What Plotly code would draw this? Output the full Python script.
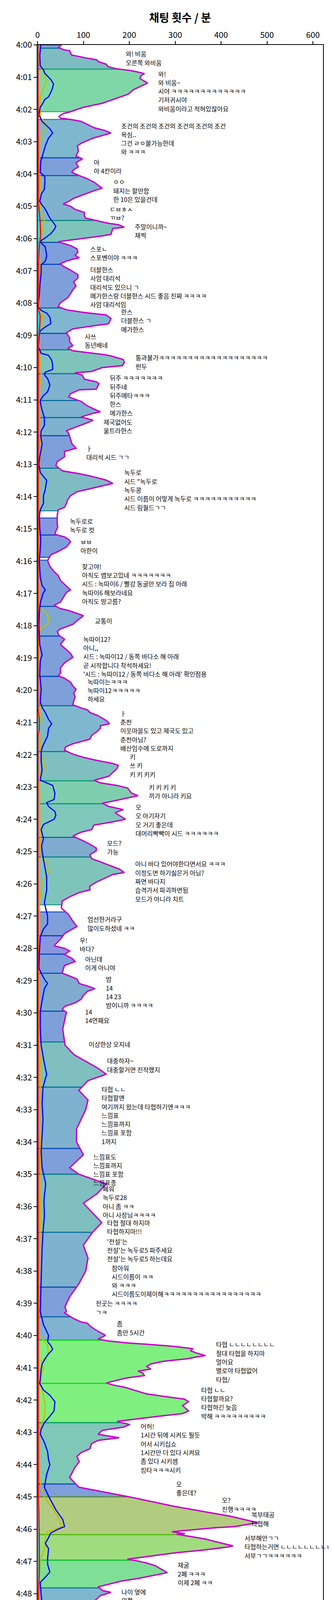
import numpy as np
import plotly.graph_objects as go

# ---------------- data (minutes after 4:00) ----------------
total_t = [0, 0.08, 0.15, 0.18, 0.31, 0.375, 0.41, 0.46, 0.52, 0.6, 0.67, 0.74, 0.79, 0.83, 0.89, 0.96, 1.04, 1.18, 1.28, 1.39, 1.53, 1.69, 1.81, 1.93, 2.01, 2.07, 2.13, 2.21, 2.27, 2.31, 2.37, 2.45, 2.57, 2.65, 2.73, 2.81, 2.89, 3.05, 3.13, 3.29, 3.45, 3.53, 3.65, 3.78, 3.88, 3.95, 4.05, 4.15, 4.27, 4.38, 4.44, 4.52, 4.62, 4.7, 4.76, 4.85, 4.93,
           5.0, 5.1, 5.19, 5.29, 5.37, 5.43, 5.53, 5.57, 5.65, 5.69, 5.87, 5.92, 5.98, 6.04, 6.1, 6.16, 6.22, 6.32, 6.42, 6.52, 6.6, 6.64, 6.7, 6.78, 6.86, 6.98, 7.12, 7.22, 7.35, 7.47, 7.59, 7.71, 7.83, 7.99, 8.11, 8.21, 8.29, 8.37, 8.48, 8.64, 8.72, 8.8, 8.92, 9.08, 9.2, 9.32, 9.4, 9.48, 9.6, 9.64, 9.75, 9.85, 9.94,
           10.0, 10.12, 10.16, 10.24, 10.36, 10.44, 10.5, 10.67, 10.69, 10.81, 10.91, 11.05, 11.19, 11.33, 11.37, 11.43, 11.53, 11.63, 11.71, 11.83, 11.96, 12.04, 12.22, 12.36, 12.5, 12.6, 12.76, 12.92, 13.04, 13.2, 13.29, 13.37, 13.49, 13.59, 13.71, 13.85, 13.97, 14.09, 14.21, 14.33, 14.41, 14.58, 14.83, 14.95,
           15.07, 15.17, 15.25, 15.33, 15.4, 15.56, 15.7, 15.8, 15.98, 16.16, 16.32, 16.44, 16.6, 16.77, 16.89, 16.97, 17.13, 17.27, 17.37, 17.47, 17.53, 17.69, 17.85, 17.96, 18.1, 18.18, 18.3, 18.42, 18.58, 18.74, 18.86, 18.98, 19.15, 19.31, 19.48, 19.55, 19.63, 19.75, 19.87, 19.97,
           20.09, 20.21, 20.33, 20.45, 20.55, 20.61, 20.69, 20.79, 20.94, 21.04, 21.1, 21.18, 21.3, 21.4, 21.52, 21.66, 21.76, 21.86, 21.98, 22.08, 22.17, 22.27, 22.33, 22.43, 22.55, 22.67, 22.79, 22.87, 22.95, 23.03, 23.19, 23.27, 23.35, 23.44, 23.5, 23.6, 23.7, 23.8, 24.0, 24.08, 24.18, 24.32, 24.4, 24.52, 24.67, 24.77, 24.89, 24.98,
           25.1, 25.22, 25.34, 25.42, 25.54, 25.65, 25.71, 25.83, 25.95, 26.07, 26.19, 26.27, 26.39, 26.53, 26.75, 26.96, 27.16, 27.32, 27.44, 27.54, 27.72, 27.92, 28.0, 28.08, 28.19, 28.31, 28.41, 28.53, 28.65, 28.77, 28.87, 28.95, 29.09, 29.19, 29.25, 29.33, 29.46, 29.58, 29.69, 29.8, 29.9, 29.98,
           30.5, 31.0, 31.3, 31.7, 31.9, 32.1, 32.4, 32.7, 33.0, 33.3, 33.6, 34.0, 34.4, 34.8, 35.0, 35.3, 35.6, 35.9, 36.2, 36.5, 36.8, 37.2, 37.6, 38.0, 38.4, 38.8, 39.1,
           39.26, 39.3, 39.46, 39.58, 39.62, 39.7, 39.79, 39.91, 39.99, 40.05, 40.11, 40.17, 40.23, 40.27, 40.33, 40.39, 40.41, 40.47, 40.55, 40.62, 40.66, 40.72, 40.8, 40.88, 40.96, 41.04, 41.1, 41.16, 41.24, 41.32, 41.4, 41.47, 41.53, 41.61, 41.69, 41.81, 41.91, 41.97, 42.05, 42.17, 42.34, 42.42, 42.5, 42.58, 42.66, 42.76, 42.84, 42.94, 43.06, 43.17, 43.25, 43.35, 43.51, 43.63, 43.75, 43.91, 44.08,
           44.4, 44.7, 45.0, 45.3, 45.6, 45.8, 45.92, 45.96, 46.08, 46.14, 46.16, 46.24, 46.32, 46.36, 46.44, 46.52, 46.56, 46.65, 46.73, 46.83, 46.93, 46.99, 47.05, 47.13, 47.25, 47.35, 47.45, 47.53, 47.61, 47.71, 47.79, 47.9, 47.96, 48.06, 48.18, 48.28, 48.4, 48.5, 48.58, 48.66, 48.78, 48.88, 48.98, 49.13, 49.23, 49.39, 49.51,
           50.0, 50.5, 51.0, 51.5, 52.0, 52.5, 53.0, 53.5, 54.0, 54.5, 55.0, 55.5, 56.0, 56.5, 57.0, 57.5, 58.0, 58.3,
           58.63, 58.7, 58.79, 59.03, 59.13, 59.19, 59.27, 59.4, 59.52, 59.63, 59.69, 59.73, 59.84, 59.96, 60]
total_v = [52, 46, 57, 70, 74, 95, 108, 129, 133, 150, 153, 172, 201, 215, 233, 225, 223, 240, 225, 209, 197, 166, 141, 101, 84, 72, 56, 47, 50, 72, 95, 107, 124, 146, 160, 141, 121, 95, 87, 89, 84, 98, 84, 89, 78, 75, 91, 109, 125, 135, 141, 123, 105, 90, 78, 68, 56,
           72, 82, 102, 102, 105, 123, 155, 176, 189, 164, 160, 141, 109, 72, 45, 59, 72, 86, 88, 82, 91, 77, 63, 50, 56, 72, 88, 88, 79, 84, 77, 72, 66, 50, 45, 63, 100, 150, 160, 155, 118, 77, 63, 70, 70, 77, 66, 77, 146, 160, 187, 189, 185,
           141, 118, 82, 98, 102, 128, 134, 128, 91, 72, 68, 95, 109, 130, 137, 118, 95, 121, 109, 86, 63, 68, 72, 75, 84, 59, 59, 43, 40, 54, 91, 118, 150, 164, 128, 86, 72, 66, 63, 59, 45, 43, 43, 44,
           40, 38, 59, 68, 72, 63, 45, 29, 22, 27, 36, 45, 50, 63, 72, 63, 56, 50, 36, 50, 68, 100, 86, 77, 50, 43, 47, 59, 50, 63, 72, 77, 59, 50, 50, 45, 59, 72, 77, 84,
           79, 82, 79, 77, 95, 109, 114, 132, 150, 157, 137, 137, 128, 118, 114, 77, 61, 59, 77, 100, 128, 164, 176, 173, 164, 155, 123, 137, 173, 196, 205, 219, 192, 164, 141, 155, 187, 169, 192, 164, 123, 118, 95, 77, 100, 114, 128, 128,
           114, 118, 141, 155, 178, 189, 164, 146, 128, 114, 114, 91, 72, 54, 52, 68, 77, 86, 72, 59, 50, 36, 59, 70, 59, 75, 82, 59, 56, 54, 72, 86, 91, 114, 125, 109, 100, 95, 82, 59, 54, 63,
           55, 60, 80, 130, 150, 110, 90, 110, 105, 95, 85, 85, 100, 70, 90, 150, 130, 100, 120, 140, 120, 100, 110, 105, 90, 70, 60,
           63, 59, 77, 95, 109, 114, 123, 137, 148, 141, 132, 155, 196, 238, 293, 329, 339, 333, 348, 366, 348, 326, 274, 247, 238, 247, 219, 229, 233, 192, 169, 150, 164, 192, 210, 238, 288, 320, 329, 316, 329, 316, 265, 219, 173, 201, 187, 141, 132, 178, 132, 118, 114, 95, 86, 91, 82,
           70, 90, 200, 300, 420, 480, 430, 385, 293, 321, 303, 339, 370, 380, 403, 426, 412, 361, 302, 247, 196, 219, 238, 256, 270, 283, 247, 219, 183, 155, 132, 141, 160, 137, 128, 118, 77, 68, 56, 68, 86, 128, 141, 146, 118, 77, 72,
           60, 50, 45, 40, 60, 80, 60, 45, 40, 60, 100, 120, 100, 90, 120, 110, 70, 40,
           55, 50, 55, 31, 16, 27, 41, 72, 101, 129, 118, 112, 101, 84, 81]

blue_t = [0, 0.32, 0.65, 0.77, 0.88, 1.09, 1.21, 1.37, 1.5, 1.61, 1.69, 1.85, 1.93, 2.17, 2.37, 2.49, 2.6, 2.73, 2.89, 3.13, 3.37, 3.62, 3.95, 4.05, 4.1, 4.27, 4.48, 4.6, 4.84, 4.93, 5.05, 5.17, 5.29, 5.45, 5.53, 5.63, 5.73, 5.85, 5.98, 6.06, 6.14, 6.26, 6.54, 6.7, 6.82, 7.06, 7.35, 7.75, 8.11, 8.23, 8.31, 8.44, 8.64, 8.74, 8.86, 8.96, 9.36, 9.56, 9.62, 9.77, 9.93, 10.06, 10.14, 10.22, 10.34, 10.54, 10.75, 10.87, 10.99, 11.07, 11.33, 11.55, 11.79, 11.96, 12.12, 12.36, 12.56, 12.76, 13.0, 13.25, 13.41, 13.49, 13.77, 13.97, 14.21, 14.41, 14.6, 15.0, 15.3, 15.6, 16.0, 16.5, 16.75, 16.89, 17.0, 17.3, 17.6, 18.0, 18.6, 18.9, 19.1, 19.5, 19.97, 20.37, 20.53, 20.69, 20.9, 21.04, 21.18, 21.42, 21.62, 21.78, 21.9, 22.19, 22.47, 22.79, 22.95, 23.19, 23.39, 23.48, 23.6, 23.76, 23.88, 24.0, 24.16, 24.32, 24.6, 24.81, 25.0, 25.38, 25.79, 26.19, 26.59, 27.0, 27.24, 27.4, 27.64, 28.13, 28.61, 28.77, 29.0, 29.08, 29.25, 29.62, 29.98,
          30.5, 31.0, 31.5, 31.9, 32.3, 32.8, 33.3, 33.8, 34.3, 34.8, 35.3, 35.8, 36.3, 36.8, 37.3, 37.8, 38.3, 38.8,
          39.26, 39.66, 39.99, 40.19, 40.31, 40.43, 40.6, 40.88, 41.04, 41.36, 41.49, 41.69, 41.85, 42.05, 42.34, 42.5, 42.7, 42.9, 43.06, 43.31, 43.6, 43.84, 44.0,
          44.3, 44.7, 45.0, 45.4, 45.7, 45.92, 46.0, 46.12, 46.32, 46.44, 46.6, 46.93, 47.09, 47.33, 47.49, 47.65, 48.02, 48.34, 48.58, 48.74, 49.06, 49.27,
          49.8, 50.3, 50.8, 51.3, 51.8, 52.3, 52.8, 53.3, 53.8, 54.3, 54.8, 55.3, 55.8, 56.3, 56.8, 57.3, 57.8, 58.3,
          58.63, 59.03, 59.13, 59.33, 59.4, 59.6, 59.7, 59.84, 59.96, 60]
blue_v = [7, 5, 6, 13, 16, 30, 35, 32, 28, 24, 16, 10, 6, 3, 10, 19, 27, 33, 24, 17, 12, 7, 6, 14, 16, 16, 15, 9, 5, 8, 15, 20, 24, 31, 36, 40, 36, 29, 17, 8, 8, 17, 20, 17, 8, 8, 6, 4, 1, 8, 20, 27, 29, 17, 6, 4, 2, 8, 24, 31, 33, 33, 17, 15, 22, 27, 22, 13, 7, 6, 10, 15, 15, 8, 7, 10, 8, 5, 3, 6, 15, 20, 17, 13, 13, 6, 4, 5, 7, 6, 4, 6, 10, 17, 12, 6, 4, 3, 5, 10, 6, 5, 8, 6, 10, 17, 24, 31, 24, 22, 15, 10, 8, 8, 10, 6, 33, 38, 36, 20, 24, 38, 40, 36, 13, 8, 13, 9, 10, 15, 20, 20, 15, 22, 22, 13, 6, 4, 3, 8, 17, 22, 15, 10, 6,
          6, 8, 14, 20, 12, 10, 12, 10, 8, 10, 18, 14, 15, 12, 10, 9, 8, 7,
          6, 13, 24, 22, 29, 33, 22, 10, 8, 6, 5, 13, 27, 38, 36, 27, 15, 8, 6, 15, 22, 24, 27,
          20, 15, 25, 40, 55, 59, 45, 29, 22, 17, 24, 22, 22, 27, 17, 6, 8, 10, 6, 7, 8, 4,
          6, 8, 6, 5, 6, 10, 7, 5, 4, 6, 10, 14, 12, 10, 14, 12, 9, 6,
          7, 5, 3, 5, 16, 20, 24, 21, 10, 9]

yellow_t = [0, 0.52, 0.73, 1.0, 1.13, 1.29, 1.53, 1.73, 2.1, 2.26, 2.46, 2.58, 2.74, 2.98, 3.27, 3.95, 4.23, 4.44, 4.76, 4.93, 5.17, 5.45, 5.57, 5.98, 6.14, 6.54, 6.94, 7.35, 7.55, 7.75, 8.15, 8.35, 8.64, 8.8, 8.96, 9.36, 9.77, 9.93, 10.3, 10.6, 11.0, 11.5, 12.0, 12.6, 12.8, 13.2, 14.0, 15.0, 16.5, 17.3, 17.47, 17.57, 17.73, 17.94, 18.1, 18.3, 19.0, 19.6, 19.97, 20.45, 20.69, 21.2, 22.0, 22.23, 22.43, 22.6, 22.9, 23.8, 24.3, 24.8, 25.18, 25.34, 25.67, 25.87, 26.19, 26.59, 27.2, 27.6, 28.2, 29.0, 30.0,
            31.0, 31.9, 32.5, 33.5, 35.3, 36.5, 38.0, 39.0,
            39.26, 39.99, 40.15, 40.31, 40.6, 40.8, 41.0, 41.28, 41.49, 41.85, 42.17, 42.5, 42.82, 43.1, 44.0,
            44.5, 45.0, 45.5, 45.92, 46.0, 46.08, 46.24, 46.52, 46.81, 47.01, 47.33, 47.61, 48.5, 50, 52, 55, 57, 58.63, 59.5, 60]
yellow_v = [4, 6, 10, 17, 20, 15, 8, 5, 6, 7, 20, 17, 10, 5, 4, 3, 8, 6, 3, 6, 8, 15, 13, 8, 4, 4, 6, 8, 5, 3, 4, 10, 13, 8, 4, 4, 5, 8, 8, 5, 4, 5, 4, 10, 5, 3, 4, 3, 5, 3, 6, 17, 24, 22, 6, 3, 4, 6, 7, 7, 8, 4, 8, 13, 17, 6, 4, 5, 5, 7, 8, 20, 24, 13, 8, 4, 5, 5, 3, 3, 3,
            4, 8, 5, 5, 8, 6, 4, 3,
            3, 3, 13, 22, 24, 8, 13, 8, 6, 13, 17, 15, 8, 4, 4,
            5, 15, 40, 54, 40, 20, 17, 17, 10, 6, 5, 4, 3, 3, 4, 5, 5, 4, 6, 5]

red_t = [0, 4.9, 5.5, 5.9, 6.2, 6.8, 8.2, 8.4, 8.7, 9.2, 20.5, 20.7, 20.9, 21.2, 21.4, 45.0, 45.5, 46.5, 47.3, 48.0, 59.15, 59.43, 59.6, 59.73, 59.85, 60]
red_v = [1, 2, 6, 7, 4, 2, 2, 6, 5, 2, 1, 2, 4, 4, 1, 2, 3, 4, 4, 2, 2, 5, 9, 7, 6, 8]

cyan_t = [0, 0.3, 0.6, 1, 11.1, 11.3, 11.5, 19.4, 19.7, 20.0, 20.3, 20.5, 60]
cyan_v = [2, 6, 3, 1, 2, 6, 2, 2, 7, 9, 7, 2, 1]

# segments: start, end, colour (full-strength line colour; fill = 50% tint)
seg_start = [0, 0.1, 0.75, 2.31, 3.5, 4.05, 5.44, 6.12, 6.8, 8.15, 8.94, 9.45, 10.19, 11.02, 11.55, 12.11, 13.12, 14.66, 15.19, 15.97, 17.4, 18.32, 19.57, 20.48, 21.9, 22.81, 23.52, 24.56, 25.17, 26.87, 27.61, 28.18, 28.77,
             29.95, 30.9, 32.3, 34.2, 35.0, 36.8, 38.5, 39.42, 40.14, 41.48, 42.7, 44.6, 45.0, 46.17, 46.96, 47.82, 48.6, 49.6, 51.0, 53.8, 54.3, 55.8, 56.6, 58.3, 59.15, 59.68]
seg_end = [0.1, 0.75, 2.07, 3.5, 4.05, 5.44, 6.12, 6.8, 8.15, 8.94, 9.45, 10.19, 11.02, 11.55, 12.11, 13.12, 14.44, 15.19, 15.88, 17.4, 18.32, 19.57, 20.48, 21.9, 22.81, 23.52, 24.56, 25.17, 26.65, 27.61, 28.18, 28.77, 29.95,
           30.9, 32.3, 34.2, 35.0, 36.8, 38.5, 39.42, 40.14, 41.48, 42.7, 44.6, 45.0, 46.17, 46.96, 47.82, 48.6, 49.6, 51.0, 53.6, 54.3, 55.8, 56.6, 58.3, 59.15, 59.68, 60]
seg_color = ["#0040b8", "#007888", "#00b050", "#006fa0", "#0040b8", "#0066a0", "#008a78", "#0040b8", "#0040b8", "#006fa0", "#0040b8", "#008a78", "#0066a0", "#0066a0", "#0066a0", "#0040b8", "#007888", "#1030c0", "#0040b8", "#0040b8", "#0050a8", "#0040b8", "#0040b8", "#0070a0", "#007f80", "#00a060", "#009078", "#0058a0", "#008a78", "#0040b8", "#1030c0", "#0040b8", "#0058a0",
             "#0040b8", "#007f80", "#0066a0", "#0040b8", "#007f80", "#0066a0", "#0040b8", "#0068a0", "#00e000", "#00e000", "#009070", "#0040b8", "#669900", "#40b800", "#00c030", "#0070a0", "#0070a0", "#0066a0", "#0040b8", "#0040b8", "#0066a0", "#0066a0", "#007f80", "#1030c0", "#0058a0", "#0058a0"]

# annotation blocks: first-line time, left x, lines
note_t = [0.27, 0.89, 2.5, 3.63, 4.24, 5.08, 5.63, 6.32, 6.96, 8.27, 9.03, 9.69, 10.32, 11.68, 12.5, 13.25, 14.76, 15.4, 16.16, 17.85, 18.41, 19.73, 20.71, 22.06, 23.0, 23.62, 24.73, 25.38, 27.1, 27.75, 28.33, 28.95, 29.96,
          30.97, 31.48, 32.36, 34.45, 35.45, 36.5, 37.08, 37.9, 39.0, 39.63, 40.27, 41.68, 42.81, 44.6, 45.1, 45.55, 46.27, 47.11, 47.94, 48.8,
          50.0, 52.2, 52.6, 53.6, 54.1, 54.9, 56.6, 58.3, 59.27, 59.86]
note_x = [191, 261, 180, 121, 163, 156, 210, 113, 113, 180, 101, 212, 156, 142, 105, 187, 69, 92, 95, 123, 98, 107, 179, 199, 241, 212, 150, 211, 107, 90, 102, 147, 102,
          110, 150, 138, 120, 140, 150, 150, 160, 125, 171, 387, 355, 223, 300, 400, 465, 449, 304, 181, 170,
          110, 95, 95, 100, 90, 130, 150, 80, 152, 142]
note_lines = [
    ["와! 비움", "오른쪽 와비움"],
    ["와!", "와 비움~", "시야 ㅋㅋㅋㅋㅋㅋㅋㅋㅋㅋㅋㅋㅋ", "기저귀시야", "와비움이라고 적혀있잖아요"],
    ["조건의 조건의 조건의 조건의 조건의 조건", "욕심..", "그건 ㄹㅇ불가능한데", "와 ㅋㅋㅋ"],
    ["아", "아 4칸이라"],
    ["ㅇㅇ", "돼지는 할만함", "한 10은 있을건데"],
    ["ㄷㅂㅎㅅ", "ㄲㅂ?"],
    ["주말이니까~", "채찍"],
    ["스포ㄴ", "스포벤이야 ㅋㅋㅋ"],
    ["더블한스", "사암 대리석", "대리석도 있으니 ㄱ", "메가한스랑 더블한스 시드 좋음 진짜 ㅋㅋㅋㅋ", "사암 대리석임"],
    ["한스", "더블한스 ㄱ", "메가한스"],
    ["사쓰", "동년배네"],
    ["통과불가ㅋㅋㅋㅋㅋㅋㅋㅋㅋㅋㅋㅋㅋㅋㅋㅋㅋㅋㅋ", "펀두"],
    ["뒤주 ㅋㅋㅋㅋㅋㅋㅋ", "뒤주네", "뒤주메타ㅋㅋㅋ", "한스", "메가한스"],
    ["제국없어도", "울트라한스"],
    ["ㅏ", "대리석 시드 ㄱㄱ"],
    ["녹두로", "시드 \"녹두로", "녹두콩", "시드 이름이 어떻게 녹두로 ㅋㅋㅋㅋㅋㅋㅋㅋㅋㅋㅋ", "시드 림월드ㄱㄱ"],
    ["녹두로로", "녹두로 컷"],
    ["ㅂㅂ", "아한이"],
    ["찾고야!", "아직도 맵보고있네 ㅋㅋㅋㅋㅋㅋㅋ", "시드 : 녹따이6 / 빨강 동굴만 보라 집 아래", "녹따이6 해보라네요", "아직도 땅고름?"],
    ["교통이"],
    ["녹따이12?", "아니,,", "시드 : 녹따이12 / 동쪽 바다소 해 아래", "곧 시작합니다 착석하세요!", "'시드 : 녹따이12 / 동쪽 바다소 해 아래' 확인점용"],
    ["녹따이는ㅋㅋㅋ", "녹따이12ㅋㅋㅋㅋㅋ", "하세요"],
    ["ㅏ", "춘천", "이웃마을도 있고 제국도 있고", "춘천아님?", "배산임수에 도로까지"],
    ["키", "쓰 키", "키 키 키키"],
    ["키 키 키 키", "끼가 아니라 키요"],
    ["오", "오 아기자기", "오 거기 좋은데", "대머리빡빡이 시드 ㅋㅋㅋㅋㅋㅋ"],
    ["모드?", "가능"],
    ["아니 바다 있어야한다면서요 ㅋㅋㅋ", "이정도면 하기싫은거 아님?", "짜면 바다지", "습격가서 파괴하면됨", "모드가 아니라 치트"],
    ["엄선한거라구", "많이도하셨네 ㅋㅋ"],
    ["우!", "바다?"],
    ["아닌데", "이게 아니야"],
    ["밤", "14", "14 23", "밤이니까 ㅋㅋㅋㅋ"],
    ["14", "14연패요"],
    ["이상한상 오지네"],
    ["대충하자~", "대충할거면 진작했지"],
    ["타협 ㄴㄴ", "타협할맨", "여기까지 왔는데 타협하기엔ㅋㅋㅋ", "느낌표", "느낌표까지", "느낌표 포함", "1까지"],
    ["느낌표도", "느낌표까지", "느낌표 포함", "느낌표종"],
    ["폐워", "녹두로28", "아니 좀 ㅋㅋ", "아니 사장님ㅋㅋㅋㅋ"],
    ["타협 절대 하지마", "타협하지마!!!"],
    ["'전설'는", "전설'는 녹두로5 파주세요", "전설'는 녹두로5 하는데요"],
    ["참아워", "시드이름이 ㅋㅋ", "와 ㅋㅋㅋ", "시드이름도이제이해ㅋㅋㅋㅋㅋㅋㅋㅋㅋㅋㅋㅋㅋㅋㅋㅋㅋ"],
    ["전곳는 ㅋㅋㅋㅋ", "ㄱㅋ"],
    ["좀", "좀만 5시간"],
    ["타협 ㄴㄴㄴㄴㄴㄴㄴㄴ", "절대 타협을 하지마", "멀어요", "별로야 타협없어", "타협/"],
    ["타협 ㄴㄴ", "타협할까요?", "타협하긴 늦음", "박해 ㅋㅋㅋㅋㅋㅋㅋㅋㅋ"],
    ["어허!", "1시간 뒤에 시켜도 될듯", "어서 시키십쇼", "1시간만 더 있다 시켜요", "좀 있다 시키셈", "킹타ㅋㅋㅋ시키"],
    ["오", "좋은데?"],
    ["오?", "진행ㅋㅋㅋㅋ"],
    ["북부태공", "타협해"],
    ["서부해안ㄱㄱ", "타협하는거면 ㄴㄴㄴㄴㄴㄴㄴㄴㄴㄴ", "서부ㄱㄱㅋㅋㅋㅋㅋㅋ"],
    ["채굴", "2폐 ㅋㅋㅋ", "이제 2폐 ㅋㅋ"],
    ["나이 옆에", "왼쪽", "나이 옆에거"],
    ["일벌레요", "말", "찾아라 일벌레"],
    ["이상한상입니다", "0", "농장계도 0", "0이요", "0출"],
    ["레피 ㄷㄷ"],
    ["한 농땐 걸려라", "립맨 dlc되나라 비행", "이제 시작...", "ㄴㄷㅋ : 방송은 이제부터 시작이다"],
    ["0이 너무많아"],
    ["헉", "ㅇㅂㅇ"],
    ["인생 개미핵", "개미핵", "솔직히 오래하긴 했다", "그냥 만졸을 정조하는게...", "모드 있음ㅋ ㅋㅋㅋ", "그냥 13일에 발매한다 치죠"],
    ["나제", "나제 컷!", "나제우하자", "소방 ㅋㅋㅋㅋ", "소방결격 ㄷㄷ", "와"],
    ["네코에", "네코는 죽었어", "네코 연전연승", "ㅈ네코@@@@@"],
    ["철권하시나요?", "사싸철 ㄷㄷ"],
    ["사교 결격"],
]

minute_ticks = list(range(0, 61))
minute_labels = [f"{4 + m // 60}:{m % 60:02d}" for m in minute_ticks]
x_ticks = [0, 100, 200, 300, 400, 500, 600]

FONT = "Noto Sans CJK KR"
LINE_STEP = 0.27  # minutes per text line


def tint(hexc, a=0.5):
    h = hexc.lstrip("#")
    r, g, b = int(h[0:2], 16), int(h[2:4], 16), int(h[4:6], 16)
    return f"rgba({r},{g},{b},{a})"


fig = go.Figure()
tt = np.array(total_t, dtype=float)
vv = np.array(total_v, dtype=float)

for a, b, c in zip(seg_start, seg_end, seg_color):
    mask = (tt > a) & (tt < b)
    ys = [a, a] + list(tt[mask]) + [b, b]
    xs = [0, float(np.interp(a, tt, vv))] + list(vv[mask]) + [float(np.interp(b, tt, vv)), 0]
    fig.add_trace(go.Scatter(x=xs, y=ys, mode="lines", fill="toself",
                             fillcolor=tint(c), line=dict(color=tint(c, 0.85), width=2.5),
                             hoverinfo="skip", showlegend=False))

for t_, v_, col, w in [(cyan_t, cyan_v, "#00c8d0", 2), (yellow_t, yellow_v, "#c0c000", 3),
                       (blue_t, blue_v, "#0000ff", 3), (red_t, red_v, "#ff0000", 3),
                       (total_t, total_v, "#c800c8", 3.5)]:
    fig.add_trace(go.Scatter(x=v_, y=t_, mode="lines", line=dict(color=col, width=w),
                             hoverinfo="skip", showlegend=False))

annotations = []
for t0, x0, lines in zip(note_t, note_x, note_lines):
    for i, s in enumerate(lines):
        annotations.append(dict(x=x0, y=t0 + i * LINE_STEP, xref="x", yref="y", text=s,
                                showarrow=False, xanchor="left", yanchor="middle",
                                font=dict(family=FONT, size=16, color="black")))

fig.update_layout(
    width=850, height=5100,
    margin=dict(l=88, r=31, t=107, b=37),
    paper_bgcolor="white", plot_bgcolor="white",
    title=dict(text="<b>채팅 횟수 / 분</b>", x=453 / 850, xanchor="center",
               y=1 - 38 / 5100, yanchor="middle", xref="container", yref="container",
               font=dict(family=FONT, size=28, color="black")),
    annotations=annotations,
    font=dict(family=FONT, color="black"),
)
fig.update_xaxes(range=[0, 622], side="top", tickvals=x_ticks, ticks="outside", ticklen=8,
                 tickwidth=2, tickcolor="black", showline=True, linecolor="black", linewidth=2,
                 mirror=True, showgrid=False, zeroline=False,
                 tickfont=dict(family=FONT, size=21, color="black"))
fig.update_yaxes(range=[60, 0], tickvals=minute_ticks, ticktext=minute_labels, ticks="outside",
                 ticklen=8, tickwidth=2, tickcolor="black", showline=True, linecolor="black",
                 linewidth=2, mirror=True, showgrid=False, zeroline=False,
                 tickfont=dict(family=FONT, size=21, color="black"))

fig.write_html("out.html", config={"displayModeBar": False})
